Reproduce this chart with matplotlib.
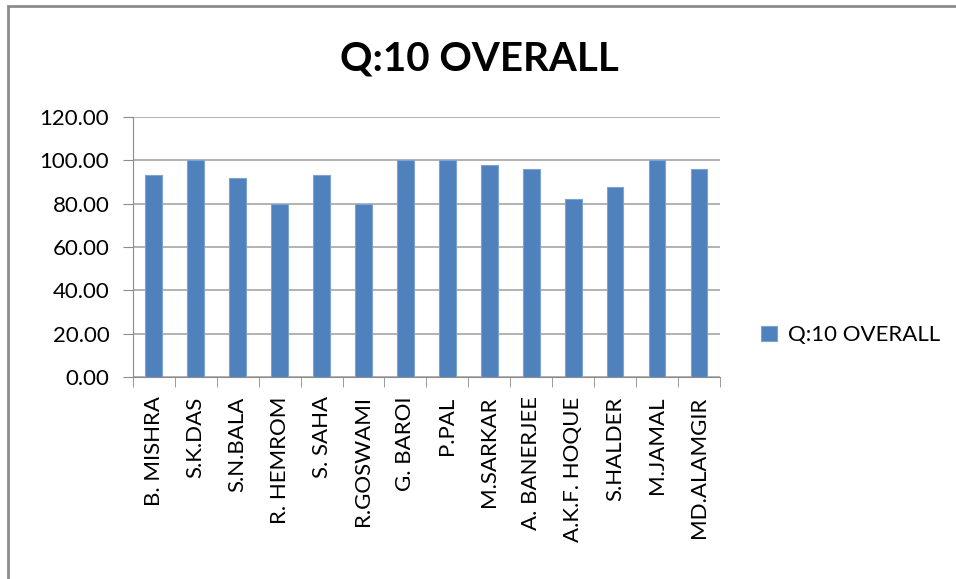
import matplotlib.pyplot as plt
from matplotlib.patches import Rectangle

# names and Q:10 overall scores
names = ['B. MISHRA', 'S.K.DAS', 'S.N.BALA', 'R. HEMROM', 'S. SAHA', 'R.GOSWAMI',
         'G. BAROI', 'P.PAL', 'M.SARKAR', 'A. BANERJEE', 'A.K.F. HOQUE',
         'S.HALDER', 'M.JAMAL', 'MD.ALAMGIR']
scores = [93.33, 100, 92, 80, 93.33, 80, 100, 100, 98, 96, 82, 87.5, 100, 96]
yticks = [0, 20, 40, 60, 80, 100, 120]

plt.rcParams['font.family'] = ['Lato', 'DejaVu Sans']

fig = plt.figure(figsize=(9.56, 5.79), dpi=100)
ax = fig.add_axes([0.139, 0.349, 0.614, 0.449])

# outer chart frame
fig.patches.append(Rectangle((0.008, -0.01), 1.1, 1.0, transform=fig.transFigure,
                             fill=False, edgecolor='#8c8c8c', linewidth=2))

x = range(len(names))
ax.bar(x, scores, width=0.4, color='#4F81BD', edgecolor='#7ea3d3',
       linewidth=0.8, label='Q:10 OVERALL', zorder=3)

ax.set_ylim(0, 120)
ax.set_xlim(-0.5, len(names) - 0.5)
ax.set_yticks(yticks)
ax.set_yticklabels(['%.2f' % v for v in yticks], fontsize=16)
ax.set_xticks(list(x))
ax.set_xticklabels(names, rotation=90, fontsize=16)
ax.tick_params(axis='x', length=0, pad=14)
ax.tick_params(axis='y', length=7, direction='out', color='#8c8c8c', pad=10)

# category boundary ticks on x axis
ax.set_xticks([i - 0.5 for i in range(len(names) + 1)], minor=True)
ax.tick_params(axis='x', which='minor', length=7, direction='out', color='#8c8c8c')

ax.grid(axis='y', color='#a6a6a6', linewidth=1.2, zorder=0)
for s in ['top', 'right']:
    ax.spines[s].set_visible(False)
ax.spines['left'].set_color('#8c8c8c')
ax.spines['bottom'].set_color('#8c8c8c')

fig.text(0.502, 0.898, 'Q:10 OVERALL', ha='center', va='center',
         fontsize=29, fontweight='bold')

ax.legend(loc='center left', bbox_to_anchor=(1.036, 0.16), frameon=False,
          fontsize=16, handlelength=0.7, handleheight=0.7, handletextpad=0.5)

fig.savefig('out.png', dpi=100)
